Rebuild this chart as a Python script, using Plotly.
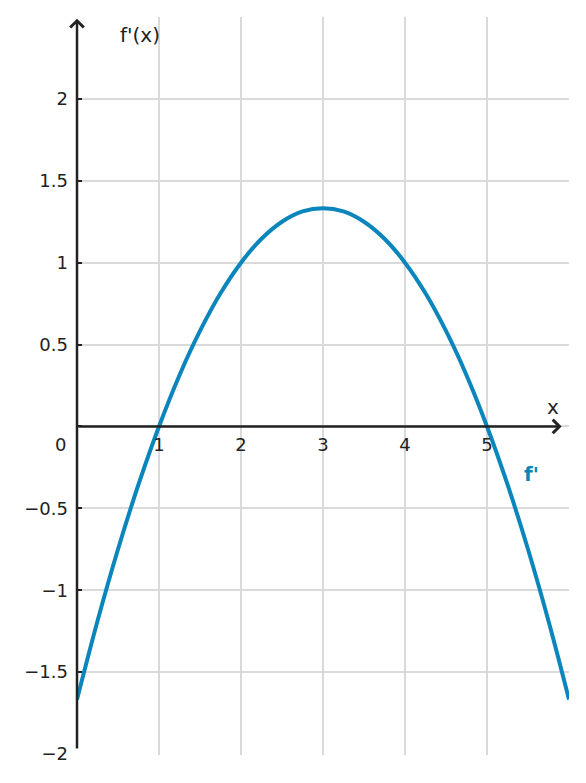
import plotly.graph_objects as go

# Data (f'(x) curve)
x_vals = [0, 0.25, 0.5, 0.75, 1, 1.25, 1.5, 1.75, 2, 2.25, 2.5, 2.75, 3,
          3.25, 3.5, 3.75, 4, 4.25, 4.5, 4.75, 5, 5.25, 5.5, 5.75, 6]
y_vals = [-1.667, -1.188, -0.75, -0.354, 0.0, 0.313, 0.583, 0.813, 1.0, 1.146, 1.25, 1.313, 1.333,
          1.313, 1.25, 1.146, 1.0, 0.813, 0.583, 0.313, 0.0, -0.354, -0.75, -1.188, -1.667]

x_ticks = [1, 2, 3, 4, 5]
x_ticktext = ["1", "2", "3", "4", "5"]
y_ticks = [-2, -1.5, -1, -0.5, 0, 0.5, 1, 1.5, 2]
y_ticktext = ["\u22122", "\u22121.5", "\u22121", "\u22120.5", "", "0.5", "1", "1.5", "2"]

CURVE = "#0a86bd"
AX = "#222222"
GRID = "#dadada"
FONT = "DejaVu Sans"

fig = go.Figure()
fig.add_trace(go.Scatter(x=x_vals, y=y_vals, mode="lines",
                         line=dict(color=CURVE, width=4, shape="spline", smoothing=1),
                         hoverinfo="skip", showlegend=False))

fig.update_layout(
    width=586, height=783,
    margin=dict(l=77, r=17, t=17, b=28),
    paper_bgcolor="white", plot_bgcolor="white",
    font=dict(family=FONT, size=18, color=AX),
    showlegend=False,
    xaxis=dict(range=[0, 6], tickvals=x_ticks, ticktext=x_ticktext,
               showgrid=True, gridcolor=GRID, gridwidth=2,
               zeroline=False, showline=False, ticks="",
               anchor="free", position=2/4.5, ticklabelstandoff=5,
               tickfont=dict(family=FONT, size=18, color=AX)),
    yaxis=dict(range=[-2.006, 2.5], tickvals=y_ticks, ticktext=y_ticktext,
               showgrid=True, gridcolor=GRID, gridwidth=2,
               zeroline=False, showline=False,
               ticks="inside", ticklen=5, tickwidth=2, tickcolor=AX,
               ticklabelstandoff=8,
               tickfont=dict(family=FONT, size=18, color=AX)),
)

# axis lines with arrowheads
fig.add_annotation(x=5.91, y=0, ax=0, ay=0, xref="x", yref="y", axref="x", ayref="y",
                   text="", showarrow=True, arrowhead=4, arrowsize=1.05, arrowwidth=2.5,
                   arrowcolor=AX, standoff=0)
fig.add_annotation(x=0, y=2.49, ax=0, ay=-1.975, xref="x", yref="y", axref="x", ayref="y",
                   text="", showarrow=True, arrowhead=4, arrowsize=1.05, arrowwidth=2.5,
                   arrowcolor=AX, standoff=0)

# labels
fig.add_annotation(x=0.77, y=2.39, xref="x", yref="y", text="f'(x)", showarrow=False,
                   font=dict(family=FONT, size=20, color=AX))
fig.add_annotation(x=5.805, y=0.12, xref="x", yref="y", text="x", showarrow=False,
                   font=dict(family=FONT, size=20, color=AX))
fig.add_annotation(x=5.54, y=-0.29, xref="x", yref="y", text="<b>f'</b>", showarrow=False,
                   font=dict(family=FONT, size=20, color=CURVE))
fig.add_annotation(x=0, y=-0.11, xref="x", yref="y", xshift=-17, text="0", showarrow=False,
                   font=dict(family=FONT, size=18, color=AX))

fig.write_html("out.html")
